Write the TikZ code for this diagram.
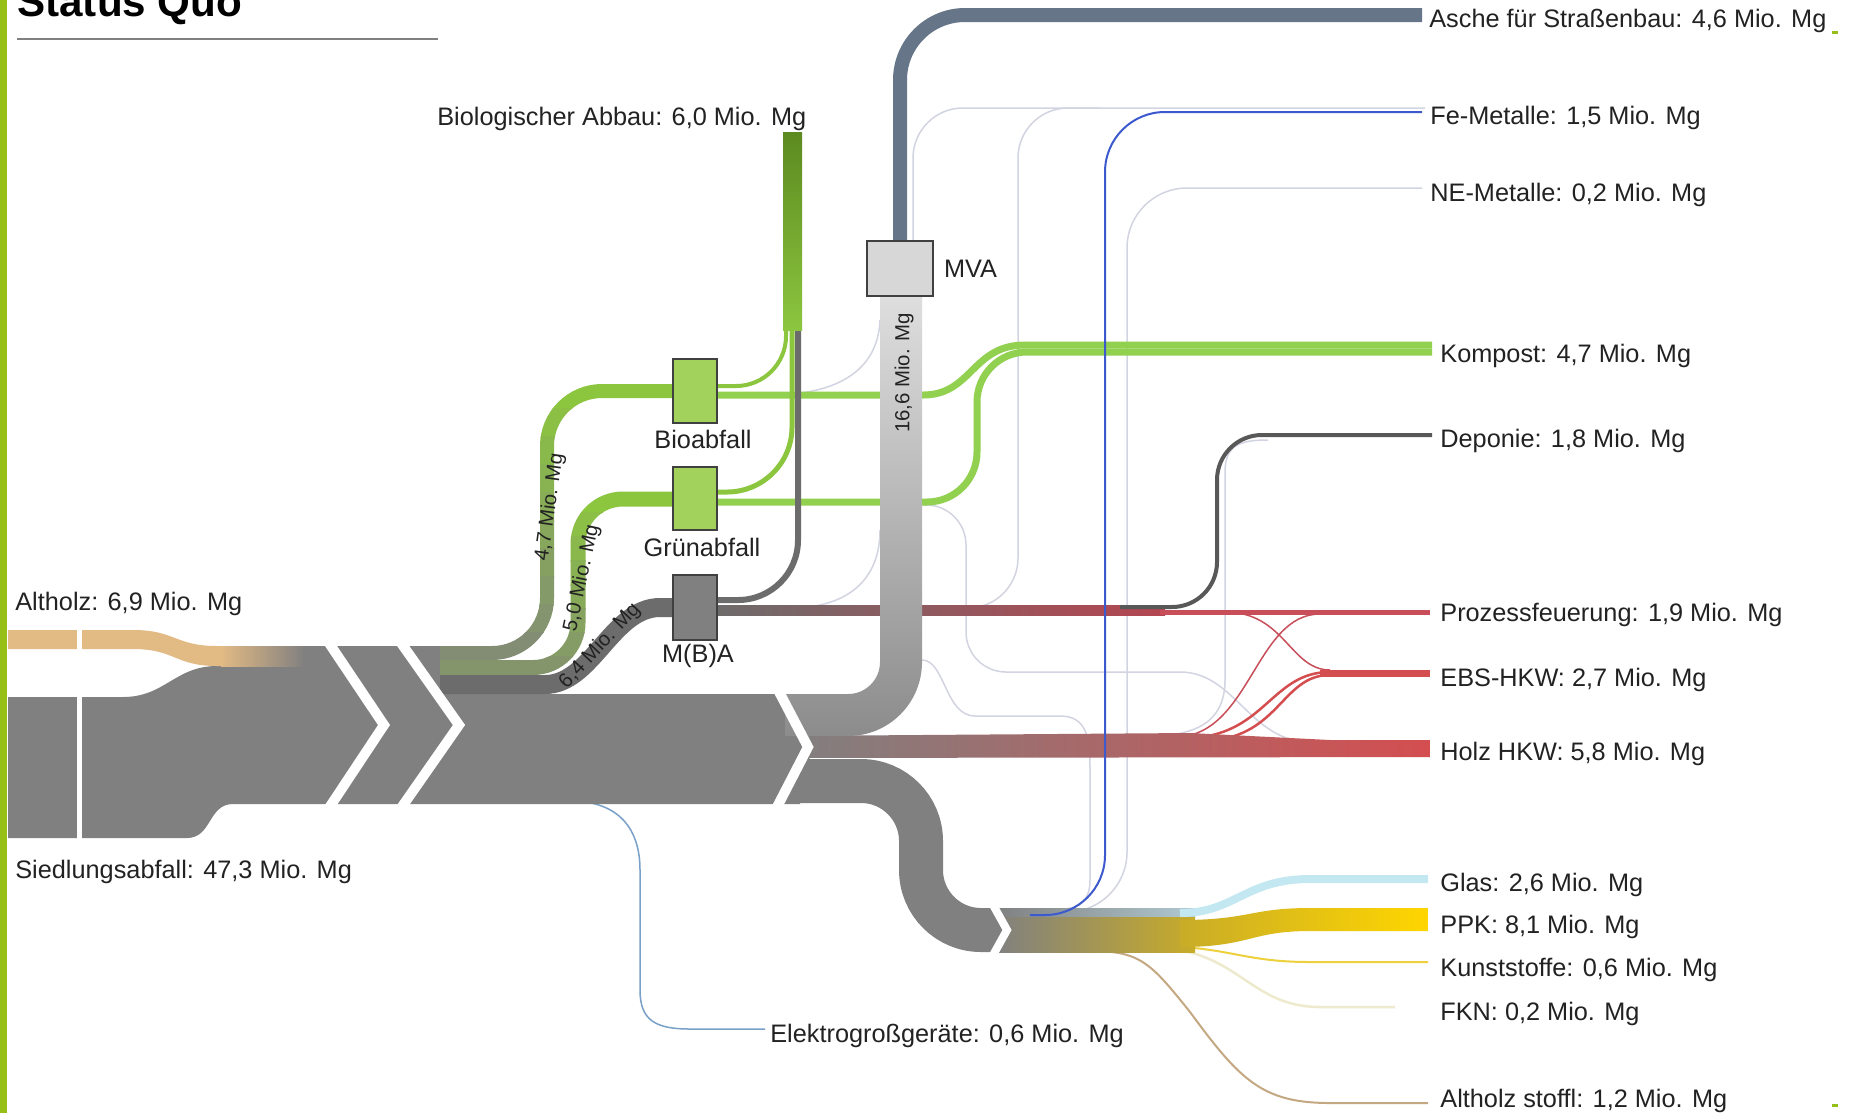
\documentclass[tikz,border=0pt]{standalone}
\usepackage{fontspec}
\setmainfont{Liberation Sans}
\usetikzlibrary{positioning}

\definecolor{framegreen}{RGB}{150,192,24}
\definecolor{flowgray}{RGB}{128,128,128}
\definecolor{mbagray}{RGB}{108,108,108}
\definecolor{altholztan}{RGB}{226,186,132}
\definecolor{biogreen}{RGB}{140,198,63}
\definecolor{kompostgreen}{RGB}{146,208,80}
\definecolor{darkbio}{RGB}{92,138,32}
\definecolor{boxgreen}{RGB}{162,210,92}
\definecolor{boxline}{RGB}{64,64,64}
\definecolor{ascheblue}{RGB}{102,118,136}
\definecolor{mvalight}{RGB}{222,222,222}
\definecolor{mvadark}{RGB}{140,140,140}
\definecolor{holzred}{RGB}{212,78,80}
\definecolor{prozred}{RGB}{200,78,90}
\definecolor{faint}{RGB}{210,212,226}
\definecolor{feblue}{RGB}{60,90,205}
\definecolor{deponiegray}{RGB}{88,88,88}
\definecolor{glasblue}{RGB}{196,232,242}
\definecolor{ppkgold}{RGB}{255,214,0}
\definecolor{sortgold}{RGB}{200,172,40}
\definecolor{kunstyellow}{RGB}{238,208,60}
\definecolor{fknpale}{RGB}{238,234,206}
\definecolor{stofflbrown}{RGB}{196,168,130}
\definecolor{elektroblue}{RGB}{120,160,200}
\definecolor{textgray}{RGB}{34,34,34}

\tikzset{
  lbl/.style={font=\fontsize{14.4}{17}\selectfont, text=textgray, inner sep=0pt},
  smalllbl/.style={font=\fontsize{11.6}{13}\selectfont, text=textgray, inner sep=0pt},
  box/.style={draw=boxline, line width=0.03cm, inner sep=0pt, minimum width=0.88cm, minimum height=1.28cm},
  faintline/.style={draw=faint, line width=0.03cm},
  gap/.style={draw=white, line width=0.2cm},
}

\begin{document}
\begin{tikzpicture}[x=0.02cm, y=-0.02cm]
  \useasboundingbox (0,0) rectangle (1858,1113);
  \fill[white] (0,0) rectangle (1858,1113);

  % frame and title
  \fill[framegreen] (0,0) rectangle (7,1113);
  \fill[framegreen] (1832,31) rectangle (1838,34);
  \fill[framegreen] (1832,1104) rectangle (1838,1107);
  \node[font=\fontsize{24}{28}\selectfont\bfseries, inner sep=0pt, anchor=base west] (title) at (17,16) {Status Quo};
  \draw[flowgray, line width=0.04cm] (17,39) -- (438,39);

  % faint side streams
  \draw[faintline, rounded corners=1cm] (913,245) -- (913,108) -- (1425,108);
  \draw[faintline, rounded corners=1cm] (950,608) -- (1018,608) -- (1018,108) -- (1100,108);
  \draw[faintline, rounded corners=1.2cm] (1010,912) -- (1127,912) -- (1127,188) -- (1422,188);
  \draw[faintline, rounded corners=0.8cm] (923,505) -- (966,505) -- (966,672) -- (1180,672);
  \draw[faintline] (1180,672) .. controls (1235,672) and (1250,742) .. (1310,742);
  \draw[faintline] (922,660) .. controls (945,660) and (945,716) .. (975,716) -- (1060,716) .. controls (1088,716) and (1090,740) .. (1090,770) -- (1090,880) .. controls (1090,905) and (1075,910) .. (1050,910);
  \draw[faintline] (1150,736) .. controls (1205,736) and (1225,715) .. (1225,680) -- (1225,472) .. controls (1225,445) and (1240,440) .. (1268,440);
  \draw[faintline] (770,395) .. controls (835,395) and (878,372) .. (880,320);
  \draw[faintline] (790,608) .. controls (845,608) and (880,582) .. (880,530);

  % MVA -> Asche
  \draw[ascheblue, line width=0.28cm, rounded corners=1.3cm] (900,280) -- (900,15) -- (1422,15);

  % Kompost
  \draw[kompostgreen, line width=0.14cm] (705,395) -- (923,395) .. controls (972,395) and (972,345) .. (1025,345) -- (1432,345);
  \draw[kompostgreen, line width=0.14cm, rounded corners=1cm] (705,502) -- (977,502) -- (977,352) -- (1432,352);

  % M(B)A -> Deponie, Prozessfeuerung
  \shade[left color=mbagray, right color=prozred!90!black] (705,605) rectangle (1165,615);
  \draw[deponiegray, line width=0.08cm, rounded corners=0.9cm] (1120,607) -- (1217,607) -- (1217,435) -- (1432,435);
  \draw[prozred, line width=0.1cm] (1160,612) -- (1430,612);

  % EBS crossing
  \draw[prozred, line width=0.03cm] (1225,612) .. controls (1285,612) and (1290,670) .. (1330,670);
  \draw[holzred, line width=0.05cm] (1185,738) .. controls (1265,738) and (1270,672) .. (1330,672);
  \draw[holzred, line width=0.05cm] (1200,741) .. controls (1280,741) and (1280,675) .. (1330,675);
  \draw[prozred, line width=0.03cm] (1175,737) .. controls (1250,737) and (1255,614) .. (1320,614);
  \draw[holzred, line width=0.14cm] (1320,673) -- (1430,673);

  % Holz HKW
  \shade[left color=flowgray, right color=holzred] (785,736) -- (1190,733) -- (1330,740) -- (1430,740) -- (1430,757) -- (785,758) -- cycle;

  % sorting
  \draw[kunstyellow, line width=0.04cm] (1150,946) .. controls (1230,946) and (1240,962) .. (1310,962) -- (1428,962);
  \draw[fknpale, line width=0.05cm] (1160,948) .. controls (1240,952) and (1250,1007) .. (1320,1007) -- (1395,1007);
  \draw[stofflbrown, line width=0.04cm] (1090,951) .. controls (1140,951) and (1150,962) .. (1190,1012) .. controls (1240,1080) and (1262,1103) .. (1330,1103) -- (1428,1103);
  \shade[left color=flowgray, right color=sortgold] (995,908) rectangle (1195,952);
  \shade[left color=flowgray, right color=glasblue!70!flowgray] (995,908) rectangle (1195,916);
  \shade[left color=sortgold, right color=ppkgold] (1180,920) .. controls (1250,920) and (1250,908) .. (1310,908) -- (1428,908) -- (1428,931) -- (1310,931) .. controls (1250,931) and (1250,947) .. (1180,947) -- cycle;
  \draw[glasblue, line width=0.16cm] (1180,913) .. controls (1235,913) and (1245,879) .. (1310,879) -- (1428,879);

  % Elektrogrossgeraete
  \draw[elektroblue, line width=0.03cm] (570,801) .. controls (620,801) and (640,830) .. (640,870) -- (640,990) .. controls (640,1020) and (655,1029) .. (690,1029) -- (765,1029);

  % Fe-Metalle
  \draw[feblue, line width=0.04cm, rounded corners=1.2cm] (1030,915) -- (1105,915) -- (1105,112) -- (1422,112);

  % Biologischer Abbau
  \draw[biogreen, line width=0.08cm, rounded corners=1cm] (705,386) -- (786,386) -- (786,132);
  \draw[biogreen, line width=0.1cm, rounded corners=1.3cm] (705,492) -- (792,492) -- (792,132);
  \draw[mbagray, line width=0.12cm, rounded corners=1.2cm] (705,600) -- (798,600) -- (798,132);
  \shade[top color=darkbio, bottom color=biogreen] (783,132) rectangle (802,330);

  % main stream
  \fill[flowgray] (8,697) -- (123,697) .. controls (165,697) and (175,666) .. (217,666) -- (217,646) -- (445,646) -- (445,694) -- (800,694) -- (812,747) -- (800,804) -- (233,804) .. controls (208,804) and (212,838) .. (187,838) -- (8,838) -- cycle;
  \fill[altholztan] (8,630) -- (133,630) .. controls (175,630) and (175,646) .. (217,646) -- (222,646) -- (222,666) -- (217,666) .. controls (175,666) and (175,649) .. (133,649) -- (8,649) -- cycle;
  \shade[left color=altholztan, right color=flowgray] (221,646) rectangle (305,666);

  % MVA stream
  \shade[top color=mvalight, bottom color=mvadark] (785,694) -- (848,694) .. controls (865.7,694) and (880,679.7) .. (880,662) -- (880,296) -- (922,296) -- (922,662) .. controls (922,703) and (889,736) .. (848,736) -- (785,736) -- cycle;

  % stream to sorting
  \draw[flowgray, line width=0.88cm, rounded corners=1.2cm] (785,781) -- (921,781) -- (921,930) -- (1000,930);

  % streams to Bioabfall, Gruenabfall, M(B)A
  \foreach \i in {0,...,9}{
    \pgfmathtruncatemacro\p{100-9*\i}
    \begin{scope}
      \clip (430,{380+28*\i}) rectangle (690,{409+28*\i});
      \draw[biogreen!\p!flowgray, line width=0.28cm, rounded corners=1.1cm] (440,653) -- (547,653) -- (547,391) -- (690,391);
    \end{scope}
  }
  \foreach \i in {0,...,7}{
    \pgfmathtruncatemacro\p{100-10*\i}
    \begin{scope}
      \clip (430,{488+24*\i}) rectangle (690,{513+24*\i});
      \draw[biogreen!\p!flowgray, line width=0.3cm, rounded corners=0.9cm] (440,667.5) -- (578,667.5) -- (578,499) -- (690,499);
    \end{scope}
  }
  \draw[mbagray, line width=0.38cm] (440,684.5) -- (545,684.5) .. controls (592,684.5) and (612,607.5) .. (660,607.5) -- (690,607.5);

  % white gaps
  \draw[white, line width=0.1cm] (79.5,622) -- (79.5,845);
  \draw[gap] (327,640) -- (384,725) -- (327,811);
  \draw[gap] (399,640) -- (459,725) -- (399,811);
  \draw[gap] (776,686) -- (808,747) -- (776,809);
  \draw[gap, line width=0.16cm] (992,903) -- (1007,930) -- (992,957);

  % plants
  \node[box, fill=boxgreen] (bio) at (695,391) {};
  \node[box, fill=boxgreen, minimum height=1.26cm] (gruen) at (695,498.5) {};
  \node[box, fill=flowgray, minimum height=1.3cm] (mba) at (695,607.5) {};
  \node[box, fill=mvalight!97!black, minimum width=1.32cm, minimum height=1.1cm] (mva) at (900,268.5) {};

  \node[lbl, below=0.12cm of bio, xshift=0.16cm] (biolbl) {Bioabfall};
  \node[lbl, below=0.14cm of gruen, xshift=0.14cm] (gruenlbl) {Grünabfall};
  \node[lbl, below=0.06cm of mba, xshift=0.06cm] (mbalbl) {M(B)A};
  \node[lbl, right=0.2cm of mva] (mvalbl) {MVA};

  % stream values
  \node[smalllbl, rotate=82] (lab47) at (550,507) {4,7 Mio. Mg};
  \node[smalllbl, rotate=78] (lab50) at (582,578) {5,0 Mio. Mg};
  \node[smalllbl, rotate=47] (lab64) at (600,646) {6,4 Mio. Mg};
  \node[smalllbl, rotate=90] (lab166) at (904,373) {16,6 Mio. Mg};

  % inputs and outputs
  \node[lbl, anchor=base west] (altholz) at (15,610) {Altholz: 6,9 Mio. Mg};
  \node[lbl, anchor=base west] (siedlung) at (15,878) {Siedlungsabfall: 47,3 Mio. Mg};
  \node[lbl, anchor=base west] (abbau) at (437,125) {Biologischer Abbau: 6,0 Mio. Mg};
  \node[lbl, anchor=base west] (asche) at (1429,27) {Asche für Straßenbau: 4,6 Mio. Mg};
  \node[lbl, anchor=base west] (fe) at (1430,124) {Fe-Metalle: 1,5 Mio. Mg};
  \node[lbl, anchor=base west] (ne) at (1430,201) {NE-Metalle: 0,2 Mio. Mg};
  \node[lbl, anchor=base west] (kompost) at (1440,362) {Kompost: 4,7 Mio. Mg};
  \node[lbl, anchor=base west] (deponie) at (1440,447) {Deponie: 1,8 Mio. Mg};
  \node[lbl, anchor=base west] (prozess) at (1440,621) {Prozessfeuerung: 1,9 Mio. Mg};
  \node[lbl, anchor=base west] (ebs) at (1440,686) {EBS-HKW: 2,7 Mio. Mg};
  \node[lbl, anchor=base west] (holz) at (1440,760) {Holz HKW: 5,8 Mio. Mg};
  \node[lbl, anchor=base west] (glas) at (1440,891) {Glas: 2,6 Mio. Mg};
  \node[lbl, anchor=base west] (ppk) at (1440,933) {PPK: 8,1 Mio. Mg};
  \node[lbl, anchor=base west] (kunst) at (1440,976) {Kunststoffe: 0,6 Mio. Mg};
  \node[lbl, anchor=base west] (fkn) at (1440,1020) {FKN: 0,2 Mio. Mg};
  \node[lbl, anchor=base west] (stoffl) at (1440,1107) {Altholz stoffl: 1,2 Mio. Mg};
  \node[lbl, anchor=base west] (elektro) at (770,1042) {Elektrogroßgeräte: 0,6 Mio. Mg};
\end{tikzpicture}
\end{document}
